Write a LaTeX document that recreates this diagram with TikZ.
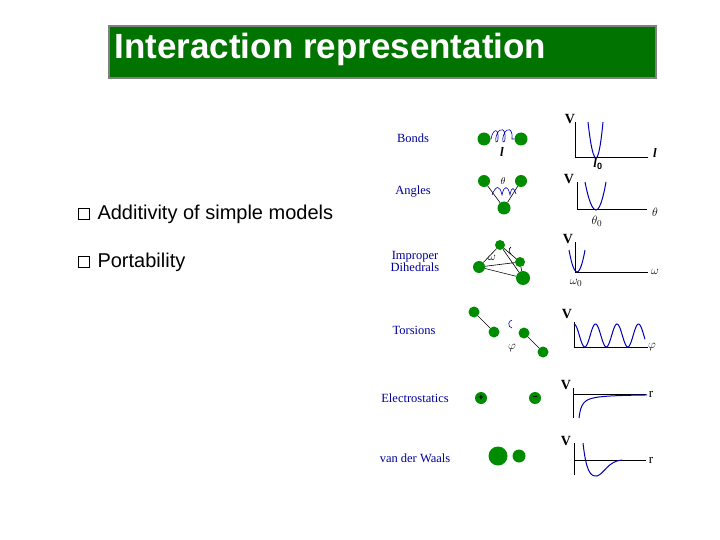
\documentclass[tikz,border=0pt]{standalone}
\usepackage{fontspec}
\setmainfont{Liberation Sans}
\newfontfamily\serf{Liberation Serif}
\begin{document}
\begin{tikzpicture}[x=1pt,y=-1pt,
 atom/.style={circle,fill=green!55!black,inner sep=0pt,minimum size=#1},
 lbl/.style={font=\serf\fontsize{12.5}{12}\selectfont,text=blue!60!black,align=center},
 sym/.style={font=\serf\fontsize{13}{13}\selectfont},
 vv/.style={font=\serf\bfseries\fontsize{14}{14}\selectfont},
 ax/.style={black,line width=1pt},
 crv/.style={blue!70!black,line width=1pt},
 bond/.style={black,line width=0.6pt}]
\useasboundingbox (0,0) rectangle (720,540);
\node[draw=gray,line width=2pt,fill=green!45!black,minimum width=547,minimum height=52,anchor=north west,inner sep=0pt] (title) at (108,25) {};
\node[anchor=west,text=white,font=\bfseries\fontsize{35}{37}\selectfont] (tt) at (111,49) {Interaction representation};
% bullets
\node[draw,line width=0.8pt,minimum size=11,inner sep=0pt] (b1) at (84,214) {};
\node[anchor=west,font=\fontsize{20}{22}\selectfont] (t1) at (94,214) {Additivity of simple models};
\node[draw,line width=0.8pt,minimum size=11,inner sep=0pt] (b2) at (84,262) {};
\node[anchor=west,font=\fontsize{20}{22}\selectfont] (t2) at (94,262) {Portability};
% labels
\node[lbl] (l1) at (413,138) {Bonds};
\node[lbl] (l2) at (413,192) {Angles};
\node[lbl] (l3) at (415,261) {Improper\\Dihedrals};
\node[lbl] (l4) at (414,330) {Torsions};
\node[lbl] (l5) at (415,398) {Electrostatics};
\node[lbl] (l6) at (415,458) {van der Waals};
% bonds
\node[atom=13] (a1) at (484,139) {};
\node[atom=13] (a2) at (521,139) {};
\draw[crv,line width=0.6pt] (a1) -- (491,139)
  .. controls (493,128) and (499,128) .. (498,139) .. controls (497,145) and (494,142) .. (497,134)
  .. controls (500,127) and (506,128) .. (505,139) .. controls (504,145) and (501,142) .. (504,134)
  .. controls (507,127) and (513,128) .. (512,139) -- (a2);
\node[font=\serf\bfseries\itshape\fontsize{13}{13}\selectfont] (s1) at (502,152) {l};
\coordinate (g1o) at (575,158);
\draw[ax] (575,122) -- (g1o) -- (648,158);
\draw[crv] (588,122) parabola bend (596,158) (603,122);
\node[vv] (v1) at (570,119) {V};
\node[font=\serf\bfseries\itshape\fontsize{13}{13}\selectfont] (x1) at (655,153) {l};
\node[font=\serf\bfseries\itshape\fontsize{13}{13}\selectfont] (x1b) at (598,164) {l$_{\mathbf 0}$};
% angles
\node[atom=12] (b1a) at (484,181) {};
\node[atom=12] (b1b) at (521,181) {};
\node[atom=13] (b1c) at (504,208) {};
\draw[bond] (b1a) -- (b1c) -- (b1b);
\draw[crv,line width=0.6pt] (492,195) .. controls (496,185) and (500,185) .. (502,195) .. controls (504,185) and (508,185) .. (510,195) .. controls (512,185) and (514,188) .. (516,194);
\node[sym,font=\fontsize{10}{10}\selectfont] (s2) at (503,181) {$\theta$};
\draw[ax] (577,182) -- (577,210) -- (647,210);
\draw[crv] (585,182) parabola bend (596,210) (606,182);
\node[vv] (v2) at (569,179) {V};
\node[sym] (x2) at (655,212) {$\theta$};
\node[sym] (x2b) at (597,221) {$\theta_0$};
% improper
\node[atom=10] (c1) at (500,245) {};
\node[atom=10] (c2) at (520,262) {};
\node[atom=12] (c3) at (479,267) {};
\node[atom=14] (c4) at (523,278) {};
\draw[bond] (c3) -- (c1) (c3) -- (c2) (c3) -- (c4) (c1) -- (c2) (c1) -- (c4) (c2) -- (c4);
\draw[bond] (511,254) arc (120:240:4);
\node[sym] (s3) at (492,258) {$\omega$};
\draw[ax] (575,242) -- (575,272) -- (648,272);
\draw[crv] (569,250) parabola bend (577,272) (585,250);
\node[vv] (v3) at (568,239) {V};
\node[sym] (x3) at (655,272) {$\omega$};
\node[sym] (x3b) at (576,283) {$\omega_0$};
% torsions
\node[atom=11] (d1) at (474,312) {};
\node[atom=11] (d2) at (494,332) {};
\node[atom=11] (d3) at (524,333) {};
\node[atom=11] (d4) at (543,352) {};
\draw[bond] (d1) -- (d2) (d3) -- (d4);
\draw[crv,line width=0.6pt] (512,328) arc (100:260:4);
\node[sym] (s4) at (512,348) {$\varphi$};
\draw[ax] (574,322) -- (574,347) -- (648,347);
\draw[crv,domain=0:71,samples=120,smooth] plot ({574+\x},{335.5-11.5*cos(\x*16.744)});
\node[vv] (v4) at (567,314) {V};
\node[sym] (x4) at (652,347) {$\varphi$};
% electrostatics
\node[atom=12,font=\bfseries\fontsize{9}{9}\selectfont] (e1) at (481,398) {+};
\node[atom=12,font=\bfseries\fontsize{9}{9}\selectfont] (e2) at (535,398) {--};
\draw[ax] (573,388) -- (573,418);
\draw[ax] (573,394) -- (646,394);
\draw[crv,domain=0:68,samples=80,smooth] plot ({579+\x},{394+24/(1+0.35*\x)});
\node[vv] (v5) at (566,385) {V};
\node[sym] (x5) at (651,394) {r};
% vdW
\node[atom=19] (f1) at (498,456) {};
\node[atom=13] (f2) at (519,456) {};
\draw[ax] (574,443) -- (574,475);
\draw[ax] (574,460) -- (646,460);
\draw[crv] (583,443) .. controls (586,470) and (590,477) .. (597,476) .. controls (604,474) and (608,461) .. (622,460);
\node[vv] (v6) at (566,441) {V};
\node[sym] (x6) at (651,460) {r};
\end{tikzpicture}
\end{document}
